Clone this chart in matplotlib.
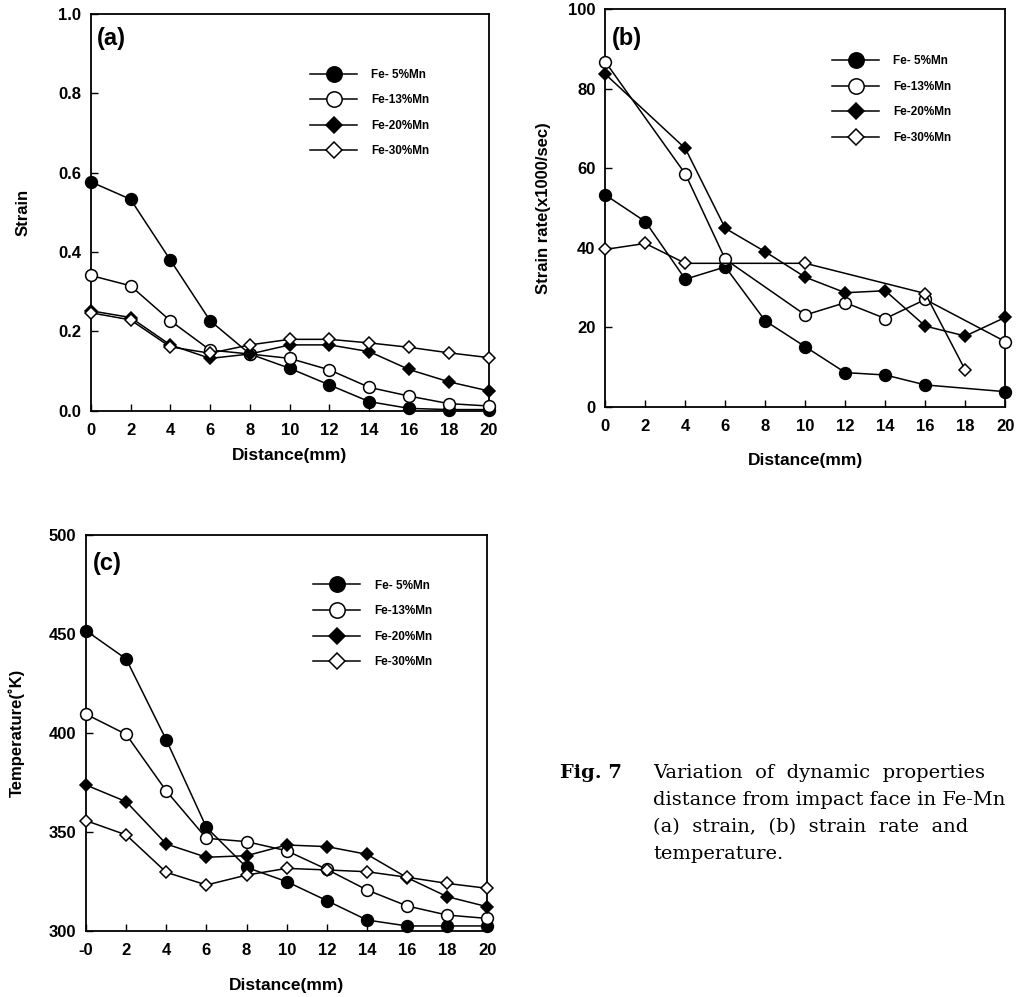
import matplotlib.pyplot as plt
import numpy as np

plt.rcParams['font.family'] = ['Liberation Sans', 'DejaVu Sans']
plt.rcParams['font.weight'] = 'bold'

distance = [0, 2, 4, 6, 8, 10, 12, 14, 16, 18, 20]
alloys = ['Fe- 5%Mn', 'Fe-13%Mn', 'Fe-20%Mn', 'Fe-30%Mn']

# (a) strain vs distance
strain_5 = [0.577, 0.533, 0.380, 0.227, 0.143, 0.107, 0.065, 0.023, 0.006, 0.003, 0.003]
strain_13 = [0.341, 0.315, 0.227, 0.153, 0.143, 0.132, 0.103, 0.059, 0.037, 0.018, 0.012]
strain_20 = [0.252, 0.235, 0.166, 0.132, 0.143, 0.166, 0.166, 0.149, 0.104, 0.073, 0.050]
strain_30 = [0.247, 0.229, 0.161, 0.145, 0.166, 0.180, 0.180, 0.171, 0.160, 0.146, 0.134]

# (b) strain rate (x1000/sec) - some points are missing in the original
rate_5_x = [0, 2, 4, 6, 8, 10, 12, 14, 16, 20]
rate_5 = [53.3, 46.6, 32.1, 35.2, 21.6, 15.1, 8.6, 8.0, 5.5, 3.8]
rate_13_x = [0, 4, 6, 10, 12, 14, 16, 20]
rate_13 = [86.8, 58.6, 37.1, 23.1, 26.2, 22.2, 27.0, 16.4]
rate_20_x = [0, 4, 6, 8, 10, 12, 14, 16, 18, 20]
rate_20 = [83.7, 65.0, 44.9, 39.0, 32.6, 28.7, 29.2, 20.3, 17.8, 22.5]
rate_30_x = [0, 2, 4, 10, 16, 18]
rate_30 = [39.6, 41.1, 36.1, 36.1, 28.5, 9.2]

# (c) temperature (K)
temp_5 = [451.6, 437.3, 396.4, 352.2, 332.0, 324.8, 315.2, 305.4, 302.4, 302.4, 302.4]
temp_13 = [409.4, 399.2, 370.6, 346.7, 345.0, 340.4, 331.0, 320.6, 312.5, 307.9, 306.2]
temp_20 = [373.6, 365.2, 343.8, 337.1, 337.9, 343.3, 342.5, 338.6, 326.8, 317.2, 312.1]
temp_30 = [355.6, 348.4, 329.5, 323.1, 328.1, 331.5, 330.7, 329.8, 327.0, 323.9, 321.4]

# marker, face colour, size for each alloy
styles = [('o', 'black', 8.5), ('o', 'white', 8.5), ('D', 'black', 6.5), ('D', 'white', 6.5)]


def draw_panel(ax, xs, ys, ylim, yticks, ytick_labels, xtick_labels, ylabel, tag,
               legend_pos, ylabel_x, xlabel_y, tag_y):
    for x, y, label, (m, fc, ms) in zip(xs, ys, alloys, styles):
        ax.plot(x, y, color='black', lw=1.1, marker=m, ms=ms, mfc=fc,
                mec='black', mew=1.1, label=label, clip_on=False, zorder=3)
    ax.set_xlim(0, 20)
    ax.set_ylim(*ylim)
    ax.set_xticks(distance)
    ax.set_xticklabels(xtick_labels)
    ax.set_yticks(yticks)
    ax.set_yticklabels(ytick_labels)
    ax.tick_params(direction='in', length=5, width=1.0, labelsize=12)
    ax.tick_params(axis='y', pad=7)
    ax.tick_params(axis='x', pad=9)
    for s in ax.spines.values():
        s.set_linewidth(1.3)
    ax.set_xlabel('Distance(mm)', fontsize=12.5, fontweight='bold')
    ax.xaxis.set_label_coords(0.5, xlabel_y)
    ax.set_ylabel(ylabel, fontsize=12, fontweight='bold')
    ax.yaxis.set_label_coords(ylabel_x, 0.5)
    ax.text(0.016, tag_y, tag, transform=ax.transAxes, fontsize=17,
            fontweight='bold', va='top', ha='left')
    ax.legend(loc='upper left', bbox_to_anchor=legend_pos, frameon=False,
              fontsize=8.5, handlelength=4.0, handletextpad=1.2,
              labelspacing=1.15, markerscale=1.3, borderpad=0, borderaxespad=0)


fig = plt.figure(figsize=(10.17, 9.97), dpi=100)

ax_a = fig.add_axes([0.0892, 0.588, 0.3913, 0.398])
ax_b = fig.add_axes([0.5952, 0.592, 0.3933, 0.3986])
ax_c = fig.add_axes([0.0846, 0.0665, 0.3946, 0.397])

xt = [str(v) for v in distance]

draw_panel(ax_a, [distance] * 4, [strain_5, strain_13, strain_20, strain_30],
           (0, 1.0), np.arange(0, 1.01, 0.2),
           ['%.1f' % v for v in np.arange(0, 1.01, 0.2)], xt,
           'Strain', '(a)', (0.551, 0.862), -0.15, -0.095, 0.967)

draw_panel(ax_b, [rate_5_x, rate_13_x, rate_20_x, rate_30_x],
           [rate_5, rate_13, rate_20, rate_30],
           (0, 100), np.arange(0, 101, 20),
           [str(v) for v in range(0, 101, 20)], xt,
           'Strain rate(x1000/sec)', '(b)', (0.567, 0.885), -0.136, -0.117, 0.955)

draw_panel(ax_c, [distance] * 4, [temp_5, temp_13, temp_20, temp_30],
           (300, 500), np.arange(300, 501, 50),
           [str(v) for v in range(300, 501, 50)], ['-0'] + xt[1:],
           'Temperature(\u02daK)', '(c)', (0.566, 0.887), -0.152, -0.12, 0.957)

# caption (runs off the right edge, as in the scanned page)
cap_font = ['DejaVu Serif']
fig.text(560 / 1017, 1 - 778 / 997, 'Fig. 7', fontsize=14, fontweight='bold',
         family=cap_font, va='baseline')
cap_lines = ['Variation  of  dynamic  properties',
             'distance from impact face in Fe-Mn',
             '(a)  strain,  (b)  strain  rate  and',
             'temperature.']
for i, line in enumerate(cap_lines):
    fig.text(653 / 1017, 1 - (778 + 27 * i) / 997, line, fontsize=14,
             fontweight='normal', family=cap_font, va='baseline')

plt.savefig('out.png', dpi=100)
